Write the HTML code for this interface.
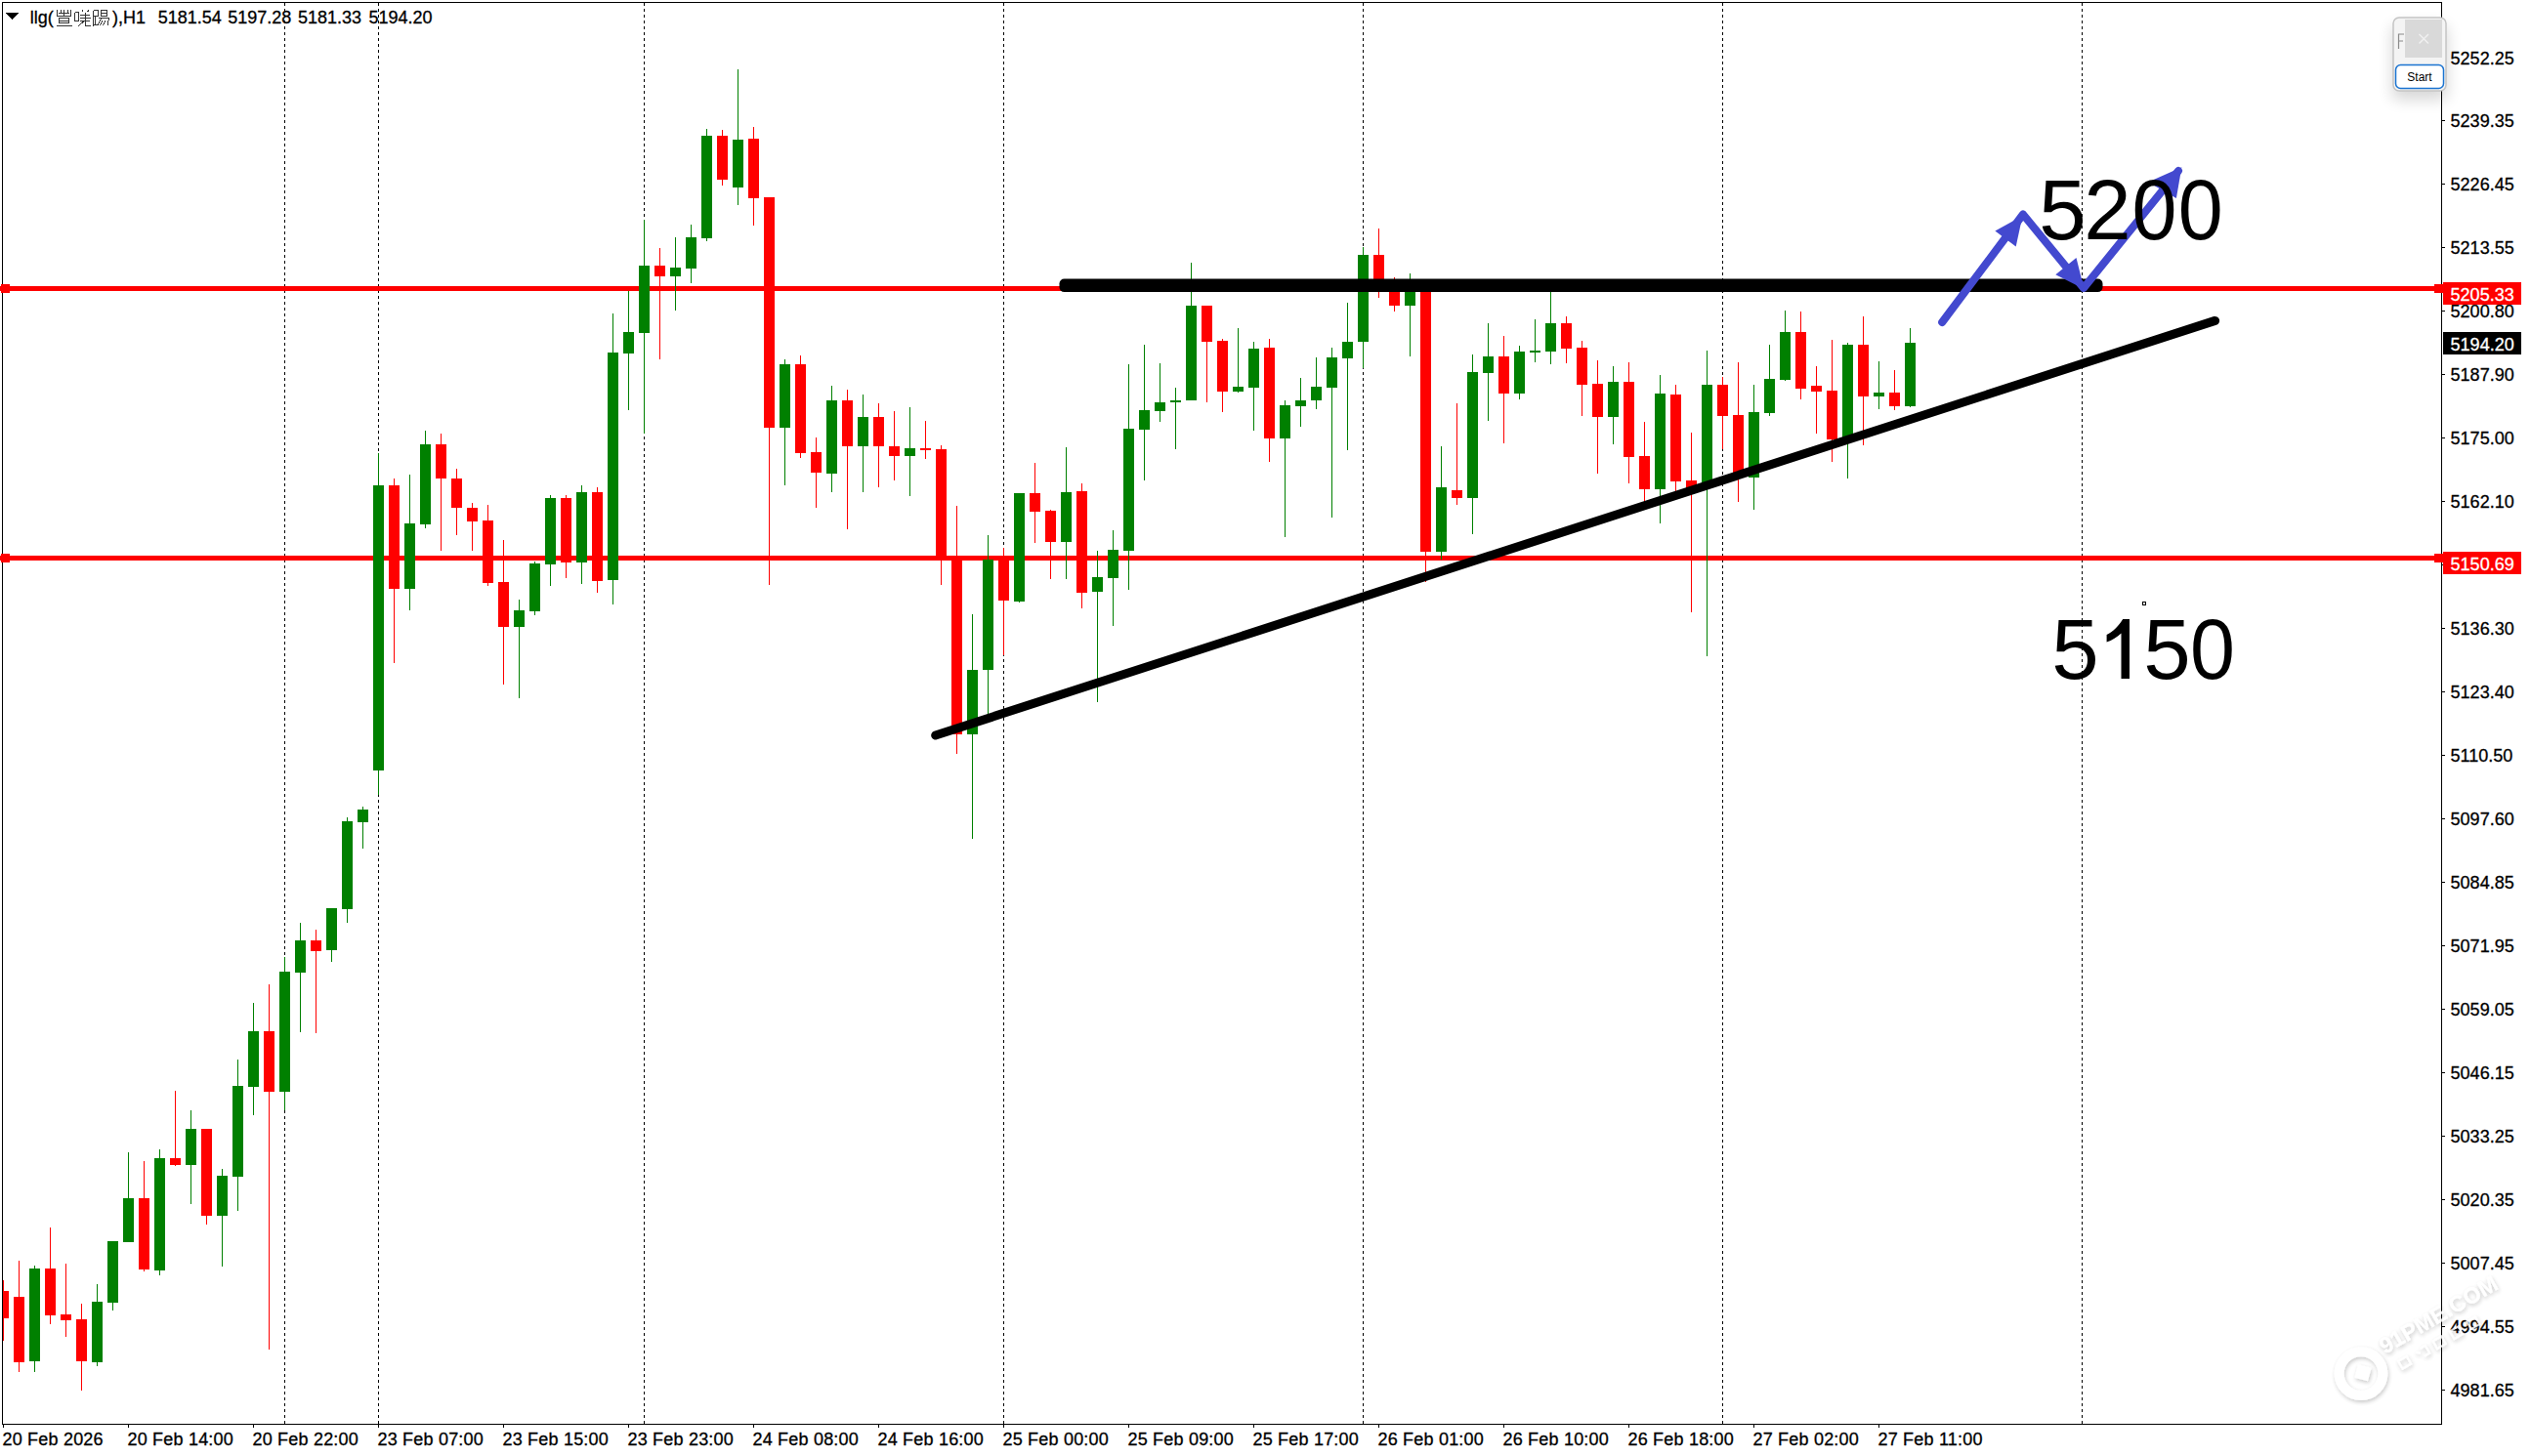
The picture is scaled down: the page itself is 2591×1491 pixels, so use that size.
<!DOCTYPE html>
<html><head><meta charset="utf-8"><title>chart</title>
<style>html,body{margin:0;padding:0;background:#fff;width:2591px;height:1491px;overflow:hidden}svg{display:block}text{shape-rendering:auto}</style>
</head><body><svg width="2591" height="1491" viewBox="0 0 2591 1491" shape-rendering="crispEdges"><line x1="291.5" y1="3" x2="291.5" y2="1458" stroke="#000" stroke-width="1" stroke-dasharray="3 3"/><line x1="387.5" y1="3" x2="387.5" y2="1458" stroke="#000" stroke-width="1" stroke-dasharray="3 3"/><line x1="659.5" y1="3" x2="659.5" y2="1458" stroke="#000" stroke-width="1" stroke-dasharray="3 3"/><line x1="1027.5" y1="3" x2="1027.5" y2="1458" stroke="#000" stroke-width="1" stroke-dasharray="3 3"/><line x1="1395.5" y1="3" x2="1395.5" y2="1458" stroke="#000" stroke-width="1" stroke-dasharray="3 3"/><line x1="1763.5" y1="3" x2="1763.5" y2="1458" stroke="#000" stroke-width="1" stroke-dasharray="3 3"/><line x1="2131.5" y1="3" x2="2131.5" y2="1458" stroke="#000" stroke-width="1" stroke-dasharray="3 3"/><rect x="0" y="293" width="2499" height="5" fill="#ff0000"/><rect x="0" y="569" width="2499" height="5" fill="#ff0000"/><defs><clipPath id="cc"><rect x="3" y="3" width="2496" height="1455"/></clipPath></defs><g clip-path="url(#cc)"><rect x="3" y="1311" width="1" height="62" fill="#ff0000"/><rect x="-2" y="1322" width="11" height="28" fill="#ff0000"/><rect x="19" y="1291" width="1" height="114" fill="#ff0000"/><rect x="14" y="1328" width="11" height="67" fill="#ff0000"/><rect x="35" y="1296" width="1" height="109" fill="#008000"/><rect x="30" y="1299" width="11" height="95" fill="#008000"/><rect x="51" y="1257" width="1" height="99" fill="#ff0000"/><rect x="46" y="1299" width="11" height="48" fill="#ff0000"/><rect x="67" y="1294" width="1" height="75" fill="#ff0000"/><rect x="62" y="1346" width="11" height="6" fill="#ff0000"/><rect x="83" y="1335" width="1" height="89" fill="#ff0000"/><rect x="78" y="1351" width="11" height="43" fill="#ff0000"/><rect x="99" y="1315" width="1" height="84" fill="#008000"/><rect x="94" y="1333" width="11" height="62" fill="#008000"/><rect x="115" y="1271" width="1" height="71" fill="#008000"/><rect x="110" y="1271" width="11" height="63" fill="#008000"/><rect x="131" y="1180" width="1" height="92" fill="#008000"/><rect x="126" y="1227" width="11" height="45" fill="#008000"/><rect x="147" y="1189" width="1" height="113" fill="#ff0000"/><rect x="142" y="1227" width="11" height="73" fill="#ff0000"/><rect x="163" y="1177" width="1" height="129" fill="#008000"/><rect x="158" y="1186" width="11" height="115" fill="#008000"/><rect x="179" y="1117" width="1" height="77" fill="#ff0000"/><rect x="174" y="1186" width="11" height="7" fill="#ff0000"/><rect x="195" y="1137" width="1" height="96" fill="#008000"/><rect x="190" y="1156" width="11" height="37" fill="#008000"/><rect x="211" y="1156" width="1" height="98" fill="#ff0000"/><rect x="206" y="1156" width="11" height="89" fill="#ff0000"/><rect x="227" y="1197" width="1" height="100" fill="#008000"/><rect x="222" y="1204" width="11" height="41" fill="#008000"/><rect x="243" y="1085" width="1" height="155" fill="#008000"/><rect x="238" y="1112" width="11" height="93" fill="#008000"/><rect x="259" y="1027" width="1" height="115" fill="#008000"/><rect x="254" y="1056" width="11" height="57" fill="#008000"/><rect x="275" y="1008" width="1" height="374" fill="#ff0000"/><rect x="270" y="1056" width="11" height="62" fill="#ff0000"/><rect x="291" y="980" width="1" height="157" fill="#008000"/><rect x="286" y="995" width="11" height="123" fill="#008000"/><rect x="307" y="945" width="1" height="112" fill="#008000"/><rect x="302" y="963" width="11" height="33" fill="#008000"/><rect x="323" y="952" width="1" height="106" fill="#ff0000"/><rect x="318" y="963" width="11" height="11" fill="#ff0000"/><rect x="339" y="930" width="1" height="55" fill="#008000"/><rect x="334" y="930" width="11" height="43" fill="#008000"/><rect x="355" y="837" width="1" height="108" fill="#008000"/><rect x="350" y="841" width="11" height="90" fill="#008000"/><rect x="371" y="826" width="1" height="43" fill="#008000"/><rect x="366" y="829" width="11" height="13" fill="#008000"/><rect x="387" y="464" width="1" height="350" fill="#008000"/><rect x="382" y="497" width="11" height="292" fill="#008000"/><rect x="403" y="490" width="1" height="189" fill="#ff0000"/><rect x="398" y="497" width="11" height="106" fill="#ff0000"/><rect x="419" y="486" width="1" height="139" fill="#008000"/><rect x="414" y="536" width="11" height="67" fill="#008000"/><rect x="435" y="441" width="1" height="100" fill="#008000"/><rect x="430" y="455" width="11" height="82" fill="#008000"/><rect x="451" y="444" width="1" height="120" fill="#ff0000"/><rect x="446" y="455" width="11" height="35" fill="#ff0000"/><rect x="467" y="480" width="1" height="68" fill="#ff0000"/><rect x="462" y="490" width="11" height="30" fill="#ff0000"/><rect x="483" y="515" width="1" height="49" fill="#ff0000"/><rect x="478" y="520" width="11" height="14" fill="#ff0000"/><rect x="499" y="517" width="1" height="83" fill="#ff0000"/><rect x="494" y="533" width="11" height="64" fill="#ff0000"/><rect x="515" y="553" width="1" height="148" fill="#ff0000"/><rect x="510" y="596" width="11" height="46" fill="#ff0000"/><rect x="531" y="614" width="1" height="101" fill="#008000"/><rect x="526" y="625" width="11" height="17" fill="#008000"/><rect x="547" y="575" width="1" height="55" fill="#008000"/><rect x="542" y="577" width="11" height="49" fill="#008000"/><rect x="563" y="507" width="1" height="93" fill="#008000"/><rect x="558" y="510" width="11" height="68" fill="#008000"/><rect x="579" y="507" width="1" height="85" fill="#ff0000"/><rect x="574" y="510" width="11" height="66" fill="#ff0000"/><rect x="595" y="497" width="1" height="101" fill="#008000"/><rect x="590" y="504" width="11" height="72" fill="#008000"/><rect x="611" y="499" width="1" height="108" fill="#ff0000"/><rect x="606" y="504" width="11" height="91" fill="#ff0000"/><rect x="627" y="321" width="1" height="298" fill="#008000"/><rect x="622" y="361" width="11" height="233" fill="#008000"/><rect x="643" y="298" width="1" height="122" fill="#008000"/><rect x="638" y="340" width="11" height="22" fill="#008000"/><rect x="659" y="225" width="1" height="219" fill="#008000"/><rect x="654" y="272" width="11" height="69" fill="#008000"/><rect x="675" y="254" width="1" height="114" fill="#ff0000"/><rect x="670" y="272" width="11" height="11" fill="#ff0000"/><rect x="691" y="243" width="1" height="75" fill="#008000"/><rect x="686" y="274" width="11" height="9" fill="#008000"/><rect x="707" y="230" width="1" height="60" fill="#008000"/><rect x="702" y="243" width="11" height="32" fill="#008000"/><rect x="723" y="132" width="1" height="115" fill="#008000"/><rect x="718" y="139" width="11" height="105" fill="#008000"/><rect x="739" y="133" width="1" height="57" fill="#ff0000"/><rect x="734" y="139" width="11" height="45" fill="#ff0000"/><rect x="755" y="71" width="1" height="139" fill="#008000"/><rect x="750" y="143" width="11" height="49" fill="#008000"/><rect x="771" y="130" width="1" height="101" fill="#ff0000"/><rect x="766" y="142" width="11" height="61" fill="#ff0000"/><rect x="787" y="202" width="1" height="397" fill="#ff0000"/><rect x="782" y="202" width="11" height="236" fill="#ff0000"/><rect x="803" y="368" width="1" height="129" fill="#008000"/><rect x="798" y="373" width="11" height="65" fill="#008000"/><rect x="819" y="364" width="1" height="105" fill="#ff0000"/><rect x="814" y="373" width="11" height="91" fill="#ff0000"/><rect x="835" y="448" width="1" height="72" fill="#ff0000"/><rect x="830" y="463" width="11" height="21" fill="#ff0000"/><rect x="851" y="395" width="1" height="109" fill="#008000"/><rect x="846" y="410" width="11" height="75" fill="#008000"/><rect x="867" y="399" width="1" height="143" fill="#ff0000"/><rect x="862" y="410" width="11" height="47" fill="#ff0000"/><rect x="883" y="404" width="1" height="100" fill="#008000"/><rect x="878" y="427" width="11" height="30" fill="#008000"/><rect x="899" y="413" width="1" height="86" fill="#ff0000"/><rect x="894" y="427" width="11" height="30" fill="#ff0000"/><rect x="915" y="421" width="1" height="71" fill="#ff0000"/><rect x="910" y="457" width="11" height="10" fill="#ff0000"/><rect x="931" y="417" width="1" height="91" fill="#008000"/><rect x="926" y="459" width="11" height="8" fill="#008000"/><rect x="947" y="431" width="1" height="39" fill="#ff0000"/><rect x="942" y="459" width="11" height="2" fill="#ff0000"/><rect x="963" y="456" width="1" height="143" fill="#ff0000"/><rect x="958" y="460" width="11" height="112" fill="#ff0000"/><rect x="979" y="518" width="1" height="254" fill="#ff0000"/><rect x="974" y="572" width="11" height="180" fill="#ff0000"/><rect x="995" y="629" width="1" height="230" fill="#008000"/><rect x="990" y="686" width="11" height="66" fill="#008000"/><rect x="1011" y="548" width="1" height="184" fill="#008000"/><rect x="1006" y="573" width="11" height="113" fill="#008000"/><rect x="1027" y="561" width="1" height="110" fill="#ff0000"/><rect x="1022" y="573" width="11" height="42" fill="#ff0000"/><rect x="1043" y="505" width="1" height="112" fill="#008000"/><rect x="1038" y="505" width="11" height="111" fill="#008000"/><rect x="1059" y="474" width="1" height="82" fill="#ff0000"/><rect x="1054" y="505" width="11" height="19" fill="#ff0000"/><rect x="1075" y="522" width="1" height="71" fill="#ff0000"/><rect x="1070" y="523" width="11" height="32" fill="#ff0000"/><rect x="1091" y="458" width="1" height="135" fill="#008000"/><rect x="1086" y="504" width="11" height="51" fill="#008000"/><rect x="1107" y="495" width="1" height="128" fill="#ff0000"/><rect x="1102" y="503" width="11" height="104" fill="#ff0000"/><rect x="1123" y="564" width="1" height="155" fill="#008000"/><rect x="1118" y="591" width="11" height="15" fill="#008000"/><rect x="1139" y="543" width="1" height="98" fill="#008000"/><rect x="1134" y="563" width="11" height="29" fill="#008000"/><rect x="1155" y="373" width="1" height="231" fill="#008000"/><rect x="1150" y="439" width="11" height="125" fill="#008000"/><rect x="1171" y="353" width="1" height="139" fill="#008000"/><rect x="1166" y="420" width="11" height="20" fill="#008000"/><rect x="1187" y="372" width="1" height="60" fill="#008000"/><rect x="1182" y="412" width="11" height="9" fill="#008000"/><rect x="1203" y="397" width="1" height="63" fill="#008000"/><rect x="1198" y="410" width="11" height="2" fill="#008000"/><rect x="1219" y="269" width="1" height="141" fill="#008000"/><rect x="1214" y="313" width="11" height="97" fill="#008000"/><rect x="1235" y="313" width="1" height="99" fill="#ff0000"/><rect x="1230" y="313" width="11" height="37" fill="#ff0000"/><rect x="1251" y="347" width="1" height="75" fill="#ff0000"/><rect x="1246" y="349" width="11" height="52" fill="#ff0000"/><rect x="1267" y="336" width="1" height="66" fill="#008000"/><rect x="1262" y="396" width="11" height="5" fill="#008000"/><rect x="1283" y="350" width="1" height="91" fill="#008000"/><rect x="1278" y="357" width="11" height="40" fill="#008000"/><rect x="1299" y="347" width="1" height="126" fill="#ff0000"/><rect x="1294" y="356" width="11" height="93" fill="#ff0000"/><rect x="1315" y="410" width="1" height="140" fill="#008000"/><rect x="1310" y="415" width="11" height="34" fill="#008000"/><rect x="1331" y="387" width="1" height="50" fill="#008000"/><rect x="1326" y="410" width="11" height="6" fill="#008000"/><rect x="1347" y="366" width="1" height="53" fill="#008000"/><rect x="1342" y="396" width="11" height="14" fill="#008000"/><rect x="1363" y="356" width="1" height="174" fill="#008000"/><rect x="1358" y="366" width="11" height="31" fill="#008000"/><rect x="1379" y="310" width="1" height="151" fill="#008000"/><rect x="1374" y="350" width="11" height="17" fill="#008000"/><rect x="1395" y="253" width="1" height="124" fill="#008000"/><rect x="1390" y="261" width="11" height="89" fill="#008000"/><rect x="1411" y="234" width="1" height="71" fill="#ff0000"/><rect x="1406" y="261" width="11" height="37" fill="#ff0000"/><rect x="1427" y="284" width="1" height="35" fill="#ff0000"/><rect x="1422" y="296" width="11" height="17" fill="#ff0000"/><rect x="1443" y="280" width="1" height="85" fill="#008000"/><rect x="1438" y="298" width="11" height="15" fill="#008000"/><rect x="1459" y="298" width="1" height="298" fill="#ff0000"/><rect x="1454" y="298" width="11" height="267" fill="#ff0000"/><rect x="1475" y="457" width="1" height="116" fill="#008000"/><rect x="1470" y="499" width="11" height="66" fill="#008000"/><rect x="1491" y="413" width="1" height="104" fill="#ff0000"/><rect x="1486" y="502" width="11" height="8" fill="#ff0000"/><rect x="1507" y="363" width="1" height="184" fill="#008000"/><rect x="1502" y="381" width="11" height="129" fill="#008000"/><rect x="1523" y="331" width="1" height="100" fill="#008000"/><rect x="1518" y="365" width="11" height="17" fill="#008000"/><rect x="1539" y="344" width="1" height="110" fill="#ff0000"/><rect x="1534" y="365" width="11" height="38" fill="#ff0000"/><rect x="1555" y="354" width="1" height="55" fill="#008000"/><rect x="1550" y="360" width="11" height="43" fill="#008000"/><rect x="1571" y="327" width="1" height="44" fill="#008000"/><rect x="1566" y="359" width="11" height="2" fill="#008000"/><rect x="1587" y="296" width="1" height="77" fill="#008000"/><rect x="1582" y="331" width="11" height="29" fill="#008000"/><rect x="1603" y="324" width="1" height="48" fill="#ff0000"/><rect x="1598" y="331" width="11" height="26" fill="#ff0000"/><rect x="1619" y="349" width="1" height="77" fill="#ff0000"/><rect x="1614" y="356" width="11" height="38" fill="#ff0000"/><rect x="1635" y="369" width="1" height="116" fill="#ff0000"/><rect x="1630" y="393" width="11" height="34" fill="#ff0000"/><rect x="1651" y="375" width="1" height="80" fill="#008000"/><rect x="1646" y="391" width="11" height="36" fill="#008000"/><rect x="1667" y="371" width="1" height="124" fill="#ff0000"/><rect x="1662" y="391" width="11" height="77" fill="#ff0000"/><rect x="1683" y="432" width="1" height="82" fill="#ff0000"/><rect x="1678" y="467" width="11" height="34" fill="#ff0000"/><rect x="1699" y="384" width="1" height="152" fill="#008000"/><rect x="1694" y="403" width="11" height="98" fill="#008000"/><rect x="1715" y="394" width="1" height="109" fill="#ff0000"/><rect x="1710" y="404" width="11" height="89" fill="#ff0000"/><rect x="1731" y="443" width="1" height="184" fill="#ff0000"/><rect x="1726" y="492" width="11" height="8" fill="#ff0000"/><rect x="1747" y="359" width="1" height="313" fill="#008000"/><rect x="1742" y="394" width="11" height="103" fill="#008000"/><rect x="1763" y="386" width="1" height="74" fill="#ff0000"/><rect x="1758" y="394" width="11" height="32" fill="#ff0000"/><rect x="1779" y="371" width="1" height="143" fill="#ff0000"/><rect x="1774" y="425" width="11" height="62" fill="#ff0000"/><rect x="1795" y="394" width="1" height="128" fill="#008000"/><rect x="1790" y="422" width="11" height="67" fill="#008000"/><rect x="1811" y="353" width="1" height="73" fill="#008000"/><rect x="1806" y="388" width="11" height="35" fill="#008000"/><rect x="1827" y="318" width="1" height="72" fill="#008000"/><rect x="1822" y="340" width="11" height="49" fill="#008000"/><rect x="1843" y="319" width="1" height="90" fill="#ff0000"/><rect x="1838" y="340" width="11" height="58" fill="#ff0000"/><rect x="1859" y="375" width="1" height="69" fill="#ff0000"/><rect x="1854" y="395" width="11" height="6" fill="#ff0000"/><rect x="1875" y="348" width="1" height="125" fill="#ff0000"/><rect x="1870" y="400" width="11" height="50" fill="#ff0000"/><rect x="1891" y="351" width="1" height="139" fill="#008000"/><rect x="1886" y="353" width="11" height="97" fill="#008000"/><rect x="1907" y="324" width="1" height="132" fill="#ff0000"/><rect x="1902" y="353" width="11" height="53" fill="#ff0000"/><rect x="1923" y="370" width="1" height="49" fill="#008000"/><rect x="1918" y="402" width="11" height="4" fill="#008000"/><rect x="1939" y="379" width="1" height="41" fill="#ff0000"/><rect x="1934" y="402" width="11" height="14" fill="#ff0000"/><rect x="1955" y="336" width="1" height="81" fill="#008000"/><rect x="1950" y="351" width="11" height="65" fill="#008000"/></g><rect x="2" y="2" width="1" height="1457" fill="#000"/><rect x="2" y="2" width="2498" height="1" fill="#000"/><rect x="2499" y="2" width="1" height="1457" fill="#000"/><rect x="2" y="1458" width="2498" height="1" fill="#000"/><rect x="1" y="291" width="9" height="9" fill="#ff0000"/><rect x="2492" y="291" width="9" height="9" fill="#ff0000"/><rect x="1" y="567" width="9" height="9" fill="#ff0000"/><rect x="2492" y="567" width="9" height="9" fill="#ff0000"/><rect x="1084.5" y="285.5" width="1068" height="13.6" rx="5" fill="#000" shape-rendering="auto"/><line x1="957.7" y1="753" x2="2267.6" y2="328.4" stroke="#000" stroke-width="9" stroke-linecap="round" shape-rendering="auto"/><g shape-rendering="auto"><polyline points="1988.2,330 2071,219.5 2133,295 2230,175" fill="none" stroke="#4349cf" stroke-width="8" stroke-linecap="round" stroke-linejoin="round"/><polygon points="2070.5,221 2042.4,236.5 2063.7,252.4" fill="#4349cf"/><polygon points="2133.5,296 2104.3,281.2 2125.5,264" fill="#4349cf"/><polygon points="2233.4,171.3 2199.1,186.4 2227.9,202.9" fill="#4349cf"/></g><text transform="translate(2087.2 245) scale(1 1)" font-family='"Liberation Sans", sans-serif' font-size="87" fill="#000">5</text><text transform="translate(2133.2 245) scale(1 1)" font-family='"Liberation Sans", sans-serif' font-size="87" fill="#000">2</text><text transform="translate(2182.45 245) scale(0.95 1)" font-family='"Liberation Sans", sans-serif' font-size="87" fill="#000">0</text><text transform="translate(2229.85 245) scale(0.95 1)" font-family='"Liberation Sans", sans-serif' font-size="87" fill="#000">0</text><text transform="translate(2100.2 695) scale(1 1)" font-family='"Liberation Sans", sans-serif' font-size="87" fill="#000">5</text><text transform="translate(2194.2 695) scale(1 1)" font-family='"Liberation Sans", sans-serif' font-size="87" fill="#000">5</text><text transform="translate(2242.05 695) scale(0.95 1)" font-family='"Liberation Sans", sans-serif' font-size="87" fill="#000">0</text><path d="M2171.5 695 V648.5 C2167.5 652.5 2162 655.8 2156.6 657.5 V650 C2163 647 2169 641 2173.2 634 H2180 V695 Z" fill="#000" shape-rendering="auto"/><rect x="2193" y="616" width="3" height="3" fill="none" stroke="#000" stroke-width="1"/><rect x="2500" y="58" width="3" height="1" fill="#000"/><text x="2508.6" y="65.5" font-family='"Liberation Sans", sans-serif' font-size="18" fill="#000" stroke="#000" stroke-width="0.3">5252.25</text><rect x="2500" y="123" width="3" height="1" fill="#000"/><text x="2508.6" y="130.48000000000002" font-family='"Liberation Sans", sans-serif' font-size="18" fill="#000" stroke="#000" stroke-width="0.3">5239.35</text><rect x="2500" y="188" width="3" height="1" fill="#000"/><text x="2508.6" y="195.46" font-family='"Liberation Sans", sans-serif' font-size="18" fill="#000" stroke="#000" stroke-width="0.3">5226.45</text><rect x="2500" y="253" width="3" height="1" fill="#000"/><text x="2508.6" y="260.44" font-family='"Liberation Sans", sans-serif' font-size="18" fill="#000" stroke="#000" stroke-width="0.3">5213.55</text><rect x="2500" y="318" width="3" height="1" fill="#000"/><text x="2508.6" y="325.42" font-family='"Liberation Sans", sans-serif' font-size="18" fill="#000" stroke="#000" stroke-width="0.3">5200.80</text><rect x="2500" y="383" width="3" height="1" fill="#000"/><text x="2508.6" y="390.40000000000003" font-family='"Liberation Sans", sans-serif' font-size="18" fill="#000" stroke="#000" stroke-width="0.3">5187.90</text><rect x="2500" y="448" width="3" height="1" fill="#000"/><text x="2508.6" y="455.38" font-family='"Liberation Sans", sans-serif' font-size="18" fill="#000" stroke="#000" stroke-width="0.3">5175.00</text><rect x="2500" y="513" width="3" height="1" fill="#000"/><text x="2508.6" y="520.36" font-family='"Liberation Sans", sans-serif' font-size="18" fill="#000" stroke="#000" stroke-width="0.3">5162.10</text><rect x="2500" y="578" width="3" height="1" fill="#000"/><rect x="2500" y="643" width="3" height="1" fill="#000"/><text x="2508.6" y="650.32" font-family='"Liberation Sans", sans-serif' font-size="18" fill="#000" stroke="#000" stroke-width="0.3">5136.30</text><rect x="2500" y="708" width="3" height="1" fill="#000"/><text x="2508.6" y="715.3000000000001" font-family='"Liberation Sans", sans-serif' font-size="18" fill="#000" stroke="#000" stroke-width="0.3">5123.40</text><rect x="2500" y="773" width="3" height="1" fill="#000"/><text x="2508.6" y="780.2800000000001" font-family='"Liberation Sans", sans-serif' font-size="18" fill="#000" stroke="#000" stroke-width="0.3">5110.50</text><rect x="2500" y="838" width="3" height="1" fill="#000"/><text x="2508.6" y="845.26" font-family='"Liberation Sans", sans-serif' font-size="18" fill="#000" stroke="#000" stroke-width="0.3">5097.60</text><rect x="2500" y="903" width="3" height="1" fill="#000"/><text x="2508.6" y="910.24" font-family='"Liberation Sans", sans-serif' font-size="18" fill="#000" stroke="#000" stroke-width="0.3">5084.85</text><rect x="2500" y="968" width="3" height="1" fill="#000"/><text x="2508.6" y="975.22" font-family='"Liberation Sans", sans-serif' font-size="18" fill="#000" stroke="#000" stroke-width="0.3">5071.95</text><rect x="2500" y="1033" width="3" height="1" fill="#000"/><text x="2508.6" y="1040.2" font-family='"Liberation Sans", sans-serif' font-size="18" fill="#000" stroke="#000" stroke-width="0.3">5059.05</text><rect x="2500" y="1098" width="3" height="1" fill="#000"/><text x="2508.6" y="1105.18" font-family='"Liberation Sans", sans-serif' font-size="18" fill="#000" stroke="#000" stroke-width="0.3">5046.15</text><rect x="2500" y="1163" width="3" height="1" fill="#000"/><text x="2508.6" y="1170.16" font-family='"Liberation Sans", sans-serif' font-size="18" fill="#000" stroke="#000" stroke-width="0.3">5033.25</text><rect x="2500" y="1228" width="3" height="1" fill="#000"/><text x="2508.6" y="1235.14" font-family='"Liberation Sans", sans-serif' font-size="18" fill="#000" stroke="#000" stroke-width="0.3">5020.35</text><rect x="2500" y="1293" width="3" height="1" fill="#000"/><text x="2508.6" y="1300.1200000000001" font-family='"Liberation Sans", sans-serif' font-size="18" fill="#000" stroke="#000" stroke-width="0.3">5007.45</text><rect x="2500" y="1358" width="3" height="1" fill="#000"/><text x="2508.6" y="1365.1000000000001" font-family='"Liberation Sans", sans-serif' font-size="18" fill="#000" stroke="#000" stroke-width="0.3">4994.55</text><rect x="2500" y="1423" width="3" height="1" fill="#000"/><text x="2508.6" y="1430.0800000000002" font-family='"Liberation Sans", sans-serif' font-size="18" fill="#000" stroke="#000" stroke-width="0.3">4981.65</text><rect x="2501" y="289" width="80" height="23" fill="#ff0000"/><text x="2508.6" y="308" font-family='"Liberation Sans", sans-serif' font-size="18" fill="#fff" stroke="#fff" stroke-width="0.3">5205.33</text><rect x="2501" y="565" width="80" height="23" fill="#ff0000"/><text x="2508.6" y="584" font-family='"Liberation Sans", sans-serif' font-size="18" fill="#fff" stroke="#fff" stroke-width="0.3">5150.69</text><rect x="2501" y="340" width="80" height="23" fill="#000"/><text x="2508.6" y="359" font-family='"Liberation Sans", sans-serif' font-size="18" fill="#fff" stroke="#fff" stroke-width="0.3">5194.20</text><rect x="3" y="1459" width="1" height="3" fill="#000"/><text x="2.5" y="1480" font-family='"Liberation Sans", sans-serif' font-size="18" letter-spacing="0.2" fill="#000" stroke="#000" stroke-width="0.3">20 Feb 2026</text><rect x="131" y="1459" width="1" height="3" fill="#000"/><text x="130.5" y="1480" font-family='"Liberation Sans", sans-serif' font-size="18" letter-spacing="0.2" fill="#000" stroke="#000" stroke-width="0.3">20 Feb 14:00</text><rect x="259" y="1459" width="1" height="3" fill="#000"/><text x="258.5" y="1480" font-family='"Liberation Sans", sans-serif' font-size="18" letter-spacing="0.2" fill="#000" stroke="#000" stroke-width="0.3">20 Feb 22:00</text><rect x="387" y="1459" width="1" height="3" fill="#000"/><text x="386.5" y="1480" font-family='"Liberation Sans", sans-serif' font-size="18" letter-spacing="0.2" fill="#000" stroke="#000" stroke-width="0.3">23 Feb 07:00</text><rect x="515" y="1459" width="1" height="3" fill="#000"/><text x="514.5" y="1480" font-family='"Liberation Sans", sans-serif' font-size="18" letter-spacing="0.2" fill="#000" stroke="#000" stroke-width="0.3">23 Feb 15:00</text><rect x="643" y="1459" width="1" height="3" fill="#000"/><text x="642.5" y="1480" font-family='"Liberation Sans", sans-serif' font-size="18" letter-spacing="0.2" fill="#000" stroke="#000" stroke-width="0.3">23 Feb 23:00</text><rect x="771" y="1459" width="1" height="3" fill="#000"/><text x="770.5" y="1480" font-family='"Liberation Sans", sans-serif' font-size="18" letter-spacing="0.2" fill="#000" stroke="#000" stroke-width="0.3">24 Feb 08:00</text><rect x="899" y="1459" width="1" height="3" fill="#000"/><text x="898.5" y="1480" font-family='"Liberation Sans", sans-serif' font-size="18" letter-spacing="0.2" fill="#000" stroke="#000" stroke-width="0.3">24 Feb 16:00</text><rect x="1027" y="1459" width="1" height="3" fill="#000"/><text x="1026.5" y="1480" font-family='"Liberation Sans", sans-serif' font-size="18" letter-spacing="0.2" fill="#000" stroke="#000" stroke-width="0.3">25 Feb 00:00</text><rect x="1155" y="1459" width="1" height="3" fill="#000"/><text x="1154.5" y="1480" font-family='"Liberation Sans", sans-serif' font-size="18" letter-spacing="0.2" fill="#000" stroke="#000" stroke-width="0.3">25 Feb 09:00</text><rect x="1283" y="1459" width="1" height="3" fill="#000"/><text x="1282.5" y="1480" font-family='"Liberation Sans", sans-serif' font-size="18" letter-spacing="0.2" fill="#000" stroke="#000" stroke-width="0.3">25 Feb 17:00</text><rect x="1411" y="1459" width="1" height="3" fill="#000"/><text x="1410.5" y="1480" font-family='"Liberation Sans", sans-serif' font-size="18" letter-spacing="0.2" fill="#000" stroke="#000" stroke-width="0.3">26 Feb 01:00</text><rect x="1539" y="1459" width="1" height="3" fill="#000"/><text x="1538.5" y="1480" font-family='"Liberation Sans", sans-serif' font-size="18" letter-spacing="0.2" fill="#000" stroke="#000" stroke-width="0.3">26 Feb 10:00</text><rect x="1667" y="1459" width="1" height="3" fill="#000"/><text x="1666.5" y="1480" font-family='"Liberation Sans", sans-serif' font-size="18" letter-spacing="0.2" fill="#000" stroke="#000" stroke-width="0.3">26 Feb 18:00</text><rect x="1795" y="1459" width="1" height="3" fill="#000"/><text x="1794.5" y="1480" font-family='"Liberation Sans", sans-serif' font-size="18" letter-spacing="0.2" fill="#000" stroke="#000" stroke-width="0.3">27 Feb 02:00</text><rect x="1923" y="1459" width="1" height="3" fill="#000"/><text x="1922.5" y="1480" font-family='"Liberation Sans", sans-serif' font-size="18" letter-spacing="0.2" fill="#000" stroke="#000" stroke-width="0.3">27 Feb 11:00</text><polygon points="6,13 19,13 12.5,20" fill="#000"/><text x="30.8" y="24" font-family='"Liberation Sans", sans-serif' font-size="18" fill="#000" stroke="#000" stroke-width="0.3">llg(</text><path d="M58.5 10 V17 M72.5 10 V17 M62 10 V13 M65.5 10 V16 M69 10 V13 M60 13.5 H71 M58 16.5 H73 M60 18.5 H71 M60.5 18.5 V23.5 M70.5 18.5 V23.5 M60.5 21 H70.5 M60.5 23.5 H70.5 M58 26.5 H73.5 M76.5 12.5 V22 M76.5 12.5 H80 V21.5 H76.5 M84 10 L85 12 M91 10 L89.5 12.5 M82 15 H92 M87 12.5 V26 M81.5 18 H92.5 M82 21.5 H92 M86 21.5 L80.5 26.5 M87 26.3 H92.5 M95.5 10.5 V26.5 M95.5 10.5 H100 V16 H95.5 M97.5 16 V25 M95 26 L100 25 M103.5 10.5 H109.5 V16 H103.5 Z M103.5 13.2 H109.5 M101 18.5 H111.5 L110 26.5 M104 18.5 L100 26 M105 21.5 L102.5 26 M108 21 L105.5 26" fill="none" stroke="#333" stroke-width="1"/><text x="115" y="24" font-family='"Liberation Sans", sans-serif' font-size="18" fill="#000" stroke="#000" stroke-width="0.3">),H1</text><text x="161.7" y="24" font-family='"Liberation Sans", sans-serif' font-size="18" fill="#000" stroke="#000" stroke-width="0.3">5181.54</text><text x="233.3" y="24" font-family='"Liberation Sans", sans-serif' font-size="18" fill="#000" stroke="#000" stroke-width="0.3">5197.28</text><text x="305" y="24" font-family='"Liberation Sans", sans-serif' font-size="18" fill="#000" stroke="#000" stroke-width="0.3">5181.33</text><text x="377.5" y="24" font-family='"Liberation Sans", sans-serif' font-size="18" fill="#000" stroke="#000" stroke-width="0.3">5194.20</text><defs><filter id="sh" x="-1" y="-1" width="3" height="3"><feGaussianBlur stdDeviation="8"/></filter><filter id="wm" x="-0.5" y="-0.5" width="2" height="2"><feGaussianBlur stdDeviation="1.5"/></filter></defs><g shape-rendering="auto"><rect x="2449" y="26" width="56" height="76" rx="6" fill="#000" opacity="0.16" filter="url(#sh)"/><rect x="2450" y="18" width="54" height="75" rx="6" fill="#f4f4f4" stroke="#c4c4c4" stroke-width="1.5"/><rect x="2462" y="20" width="38" height="39" fill="#d9d9d9"/><path d="M2476.5 35 L2486 44.5 M2486 35 L2476.5 44.5" stroke="#f0f0f0" stroke-width="1.5"/><path d="M2455.5 34.5 V50 M2455.5 35 H2461 M2455.5 42 H2460" stroke="#8a8a8a" stroke-width="1.2" fill="none"/><rect x="2452.5" y="66.5" width="49" height="24" rx="5" fill="#fff" stroke="#1a73d0" stroke-width="1.5"/><text x="2477" y="83" text-anchor="middle" font-family='"Liberation Sans", sans-serif' font-size="12" fill="#000">Start</text></g><defs><filter id="emb" x="-50%" y="-50%" width="200%" height="200%"><feGaussianBlur in="SourceAlpha" stdDeviation="2.2"/><feOffset dx="0.6" dy="2" result="b"/><feFlood flood-color="#000" flood-opacity="0.26"/><feComposite in2="b" operator="in" result="s"/><feMerge><feMergeNode in="s"/><feMergeNode in="SourceGraphic"/></feMerge></filter></defs><g filter="url(#emb)" shape-rendering="auto" opacity="0.85"><circle cx="2417" cy="1406.6" r="22.4" fill="none" stroke="#fff" stroke-width="10"/><rect x="2412" y="1398.7" width="14" height="14" fill="#fff" transform="rotate(15 2419 1405.7)"/><text x="2441.5" y="1387" transform="rotate(-30 2441.5 1387)" font-family='"Liberation Sans", sans-serif' font-size="23" font-weight="bold" fill="#fff">91PME.COM</text><g transform="rotate(-30 2462 1398)" fill="none" stroke="#fff" stroke-width="2"><rect x="2458" y="1391" width="10" height="9"/><path d="M2478 1392 L2482 1395 M2484 1391 H2490 V1400 H2484"/><rect x="2499" y="1391" width="10" height="9"/><rect x="2519" y="1391" width="10" height="9"/><rect x="2539" y="1391" width="10" height="9"/></g></g></svg></body></html>
